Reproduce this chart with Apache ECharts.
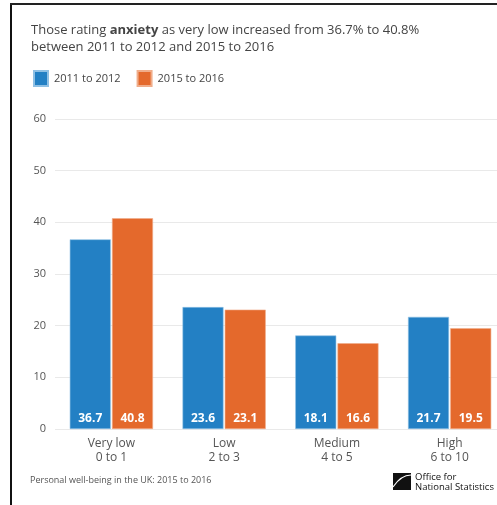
<!DOCTYPE html>
<html>
<head>
<meta charset="utf-8">
<script src="https://cdn.jsdelivr.net/npm/echarts@6/dist/echarts.min.js"></script>
<style>
html,body{margin:0;padding:0;background:#fff;overflow:hidden;width:497px;height:505px;}
#chart{width:506px;height:505px;}
</style>
</head>
<body>
<div id="chart"></div>
<script>
const categories = ['Very low\n0 to 1', 'Low\n2 to 3', 'Medium\n4 to 5', 'High\n6 to 10'];
const seriesNames = ['2011 to 2012', '2015 to 2016'];
const values2011 = [36.7, 23.6, 18.1, 21.7];
const values2015 = [40.8, 23.1, 16.6, 19.5];
const yTicks = [0, 10, 20, 30, 40, 50, 60];

const FONT = '"Open Sans", "Noto Sans", sans-serif';
const BLUE = '#2380c4';
const ORANGE = '#e4692c';

const chart = echarts.init(document.getElementById('chart'), null, {renderer: 'canvas'});

const labelOpt = {
  show: true,
  position: 'insideBottom',
  distance: 4,
  color: '#ffffff',
  fontWeight: 'bold',
  fontSize: 12,
  fontFamily: FONT
};

chart.setOption({
  animation: false,
  backgroundColor: '#ffffff',
  textStyle: {fontFamily: FONT},
  title: {
    left: 31,
    top: 22,
    padding: 0,
    text: '{n|Those rating }{b|anxiety}{n| as very low increased from 36.7% to 40.8%}\n{n|between 2011 to 2012 and 2015 to 2016}',
    textStyle: {
      fontWeight: 'normal',
      rich: {
        n: {fontSize: 13, color: '#444444', fontFamily: FONT, fontWeight: 'normal', lineHeight: 17},
        b: {fontSize: 13, color: '#444444', fontFamily: FONT, fontWeight: 'bold', lineHeight: 17}
      }
    }
  },
  legend: {
    left: 33,
    top: 70,
    padding: 0,
    icon: 'rect',
    itemWidth: 14,
    itemHeight: 15,
    itemGap: 16,
    textStyle: {fontSize: 11, color: '#444444', fontFamily: FONT, padding: [0, 0, 0, 1]},
    data: seriesNames
  },
  grid: {left: 55, right: 0, top: 119, height: 310, containLabel: false},
  xAxis: {
    type: 'category',
    data: categories,
    axisLine: {show: false},
    axisTick: {show: false},
    axisLabel: {color: '#555555', fontSize: 12, fontFamily: FONT, lineHeight: 14, margin: 8}
  },
  yAxis: {
    type: 'value',
    min: yTicks[0],
    max: yTicks[yTicks.length - 1],
    interval: 10,
    axisLine: {show: false},
    axisTick: {show: false},
    axisLabel: {color: '#555555', fontSize: 11, fontFamily: FONT, margin: 9},
    splitLine: {lineStyle: {color: '#e9e9e9', width: 1}}
  },
  series: [
    {
      name: seriesNames[0],
      type: 'bar',
      data: values2011,
      barWidth: 41,
      barGap: '3%',
      itemStyle: {color: BLUE, borderColor: '#8fc0e4', borderWidth: 0.6},
      label: labelOpt
    },
    {
      name: seriesNames[1],
      type: 'bar',
      data: values2015,
      barWidth: 41,
      barGap: '3%',
      itemStyle: {color: ORANGE, borderColor: '#f0ad8a', borderWidth: 0.6},
      label: labelOpt
    }
  ],
  graphic: [
    {type: 'rect', shape: {x: 10, y: 3, width: 2, height: 505}, style: {fill: '#111111'}, silent: true},
    {type: 'rect', shape: {x: 10, y: 3, width: 500, height: 2}, style: {fill: '#222222'}, silent: true},
    {type: 'text', left: 30, top: 476, style: {text: 'Personal well-being in the UK: 2015 to 2016', fontSize: 9, fill: '#555555', fontFamily: FONT}},
    {type: 'rect', shape: {x: 393, y: 473, width: 18, height: 17}, style: {fill: '#111111'}},
    {type: 'bezierCurve', shape: {x1: 393, y1: 487, x2: 411, y2: 475, cpx1: 399, cpy1: 478, cpx2: 405, cpy2: 475}, style: {stroke: '#ffffff', lineWidth: 1.2, fill: null}},
    {type: 'text', left: 415, top: 472, style: {text: 'Office for\nNational Statistics', fontSize: 9.5, lineHeight: 10, fill: '#111111', fontFamily: FONT}}
  ]
});
</script>
</body>
</html>
